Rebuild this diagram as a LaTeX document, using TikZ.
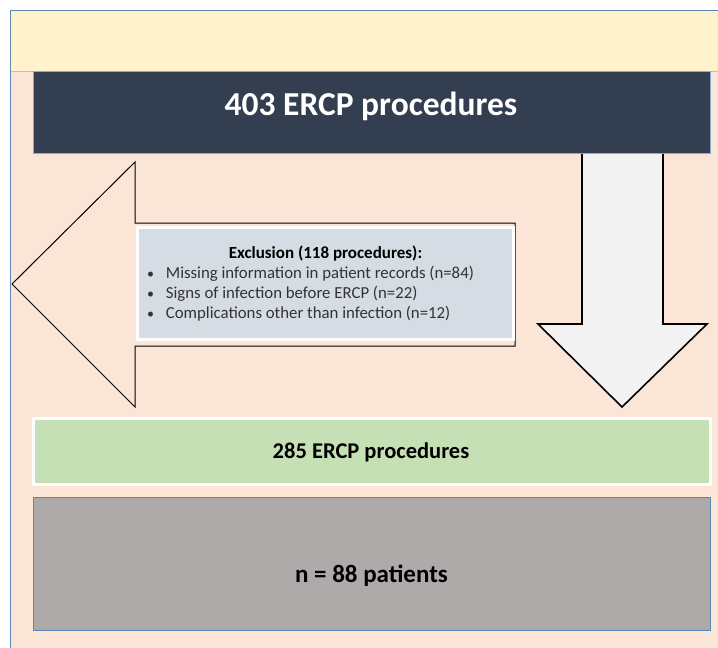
\documentclass[tikz,border=0pt]{standalone}
\usepackage{fontspec}
\setmainfont{Carlito}
\definecolor{peach}{HTML}{FBE5D6}
\definecolor{band}{HTML}{FFF2CC}
\definecolor{frameblue}{HTML}{5B87B8}
\definecolor{darkbox}{HTML}{333F50}
\definecolor{exclfill}{HTML}{D6DCE4}
\definecolor{greenfill}{HTML}{C5E0B4}
\definecolor{grayfill}{HTML}{AEAAAA}
\definecolor{arrowfill}{HTML}{F2F2F2}
\definecolor{txtgray}{HTML}{333333}
\tikzset{
  blockarrow/.style={draw=black, line join=miter},
  boxbase/.style={rectangle, inner sep=0pt},
  lbl/.style={inner sep=0pt, anchor=base},
  item/.style={inner sep=0pt, anchor=base west, text=txtgray, font=\fontsize{16.8}{20}\selectfont},
  bul/.style={inner sep=0pt, anchor=base, text=txtgray, font=\fontsize{14}{20}\selectfont},
}
\begin{document}
\begin{tikzpicture}[x=1pt,y=-1pt]
\useasboundingbox (0,0) rectangle (718,648);
\fill[white] (0,0) rectangle (718,648);
\begin{scope}
  \clip (0,0) rectangle (718,648);
  \filldraw[fill=peach, draw=frameblue, line width=1pt] (10,10) rectangle (740,680);
  \fill[band] (10.5,10.5) rectangle (739,71);
  \draw[frameblue!50, line width=0.6pt] (10.5,71) -- (739,71);
\end{scope}
% left block arrow (exclusion)
\draw[blockarrow, line width=1pt] (12,284) -- (135,162) -- (135,223) -- (515,223) -- (515,346) -- (135,346) -- (135,407) -- cycle;
% down block arrow
\filldraw[blockarrow, fill=arrowfill, line width=1.6pt] (582,150) -- (582,324) -- (538,324) -- (622,407) -- (707,324) -- (663,324) -- (663,150) -- cycle;
% top box
\node[boxbase, fill=darkbox, draw=frameblue!70, line width=0.8pt, minimum width=677pt, minimum height=82pt] (top) at (371.5,112) {};
\node[lbl, text=white, font=\bfseries\fontsize{33.5}{40}\selectfont] (toptext) at (371,115) {403 ERCP procedures};
% exclusion box
\node[boxbase, fill=exclfill, draw=white, line width=3pt, minimum width=376pt, minimum height=112pt] (excl) at (325,283) {};
\node[lbl, font=\bfseries\fontsize{17}{20}\selectfont] (excltitle) at (325.5,258) {Exclusion (118 procedures):};
\node[bul] (b1) at (150.7,278) {\textbullet};
\node[bul] (b2) at (150.7,298) {\textbullet};
\node[bul] (b3) at (150.7,318) {\textbullet};
\node[item] (i1) at (165.7,278) {Missing information in patient records (n=84)};
\node[item] (i2) at (165.7,298) {Signs of infection before ERCP (n=22)};
\node[item] (i3) at (165.7,318) {Complications other than infection (n=12)};
% result boxes
\node[boxbase, fill=greenfill, draw=white, line width=3pt, minimum width=677pt, minimum height=66pt] (res) at (371.5,451) {};
\node[lbl, font=\bfseries\fontsize{22.5}{26}\selectfont] (restext) at (371,458) {285 ERCP procedures};
\node[boxbase, fill=grayfill, draw=frameblue, line width=0.8pt, minimum width=677pt, minimum height=133pt] (pat) at (371.5,563.5) {};
\node[lbl, font=\bfseries\fontsize{25}{30}\selectfont] (pattext) at (371.5,582) {n = 88 patients};
\end{tikzpicture}
\end{document}
